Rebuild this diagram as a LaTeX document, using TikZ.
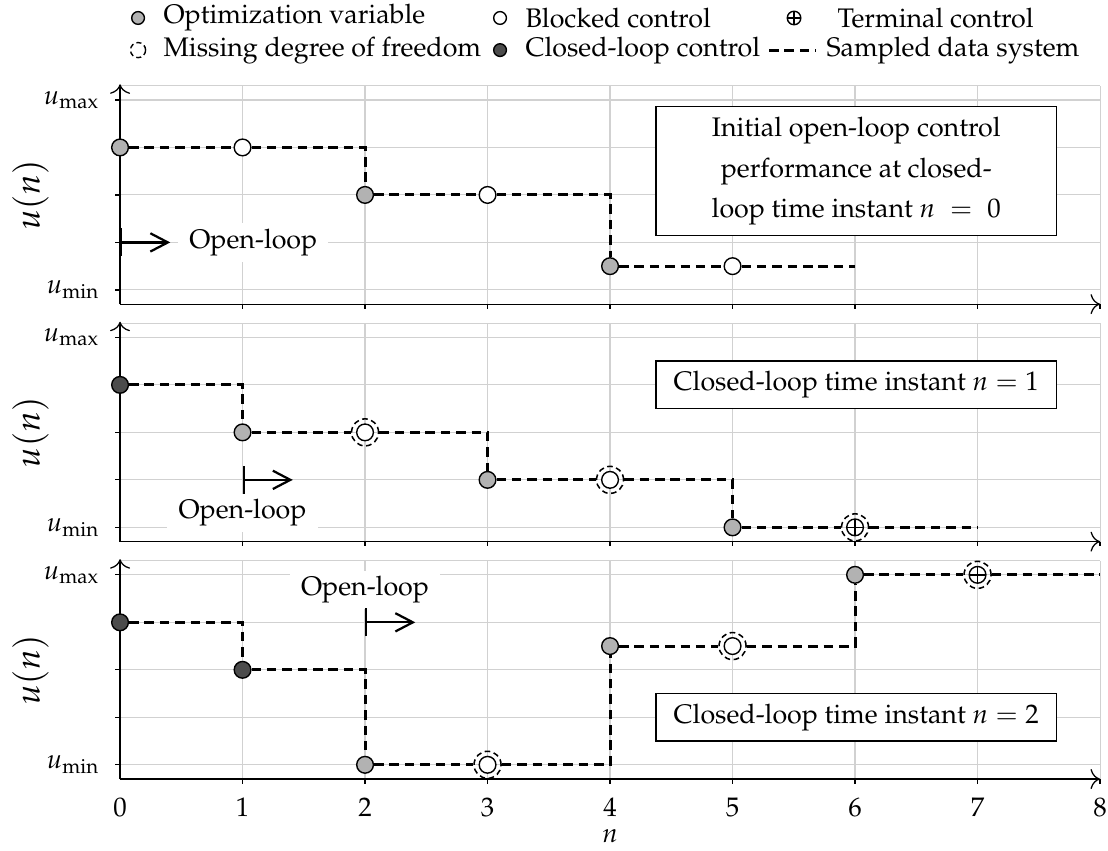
\documentclass[tikz,border=0pt]{standalone}
\usepackage{amsmath}
\usepackage[T1]{fontenc}
\usepackage{mathpazo}
\usetikzlibrary{arrows.meta}

% grid, axes and tick labels of one panel
\newcommand{\ocpframe}[1]{%
  \foreach \i in {0,...,8}{\draw[gridline] (\i,-0.3) -- (\i,4.3);}
  \foreach \j in {0,...,4}{\draw[gridline] (0,\j) -- (8,\j);}
  \draw[gridline] (0,4.3) -- (8,4.3);
  \foreach \i in {1,...,8}{\draw[axisline] (\i,-0.3) -- ++(0,-0.1);}
  \foreach \j in {0,...,4}{\draw[axisline] (0,\j) -- ++(-0.04,0);}
  \draw[axisline,-{To[length=1.2mm]}] (0,-0.3) -- (8,-0.3);
  \draw[axisline,-{To[length=1.2mm]}] (0,-0.3) -- (0,4.33);
  \node[anchor=east,inner sep=0pt] (umax#1) at (-0.163,4) {$u_{\max}$};
  \node[anchor=east,inner sep=0pt] (umin#1) at (-0.163,0) {$u_{\min}$};
  \node[rotate=90,font=\fontsize{12.5}{14}\selectfont] (ylab#1) at (-0.73,2) {$u(n)$};
}

\begin{document}
\begin{tikzpicture}[x=1.54cm,y=0.597cm,font=\fontsize{9.6}{11.5}\selectfont,
  gridline/.style={black!18,line width=0.4pt},
  axisline/.style={black,line width=0.45pt},
  mk/.style={circle,draw,line width=0.5pt,inner sep=0pt,minimum size=0.21cm},
  optvar/.style={mk,fill=black!30},
  clctrl/.style={mk,fill=black!70},
  blocked/.style={mk,fill=white},
  missing/.style={circle,draw,line width=0.55pt,dash pattern=on 2pt off 1.3pt,
    inner sep=0pt,minimum size=0.34cm,
    path picture={\draw[solid,line width=0.5pt,fill=white]
      (path picture bounding box.center) circle[radius=0.105cm];}},
  terminal/.style={missing,
    path picture={\draw[solid,line width=0.5pt,fill=white]
      (path picture bounding box.center) circle[radius=0.105cm];
      \draw[solid,line width=0.5pt]
      ([xshift=-0.105cm]path picture bounding box.center) -- ([xshift=0.105cm]path picture bounding box.center)
      ([yshift=-0.105cm]path picture bounding box.center) -- ([yshift=0.105cm]path picture bounding box.center);}},
  lgmk/.style={minimum size=0.16cm},
  lgring/.style={circle,draw,line width=0.5pt,dash pattern=on 1.8pt off 1.2pt,inner sep=0pt,minimum size=0.19cm},
  lgplus/.style={circle,draw,line width=0.5pt,inner sep=0pt,minimum size=0.17cm,
    path picture={\draw[line width=0.5pt] (path picture bounding box.north) -- (path picture bounding box.south)
      (path picture bounding box.west) -- (path picture bounding box.east);}},
  lgtext/.style={anchor=west,inner sep=0pt},
  sampled/.style={line width=1.1pt,dash pattern=on 3.4pt off 2.1pt},
  olarrow/.style={line width=0.8pt,{Bar[width=3.5mm]}-{Straight Barb[length=2.2mm,width=2.3mm]}},
  olabel/.style={fill=white,inner xsep=4pt,inner ysep=2pt},
  infobox/.style={draw,line width=0.5pt,fill=white,minimum width=5.04cm,align=center}]
\useasboundingbox (-0.98,-1.81) rectangle (8.065,16.105);

% ---- legend ----
\node[optvar,lgmk] (lg1) at (0.147,15.726) {};
\node[lgtext] (lt1) at (0.351,15.726) {Optimization variable};
\node[blocked,lgmk] (lg2) at (3.102,15.726) {};
\node[lgtext] (lt2) at (3.306,15.726) {Blocked control};
\node[lgplus] (lg3) at (5.502,15.726) {};
\node[lgtext] (lt3) at (5.853,15.726) {Terminal control};
\node[lgring] (lg4) at (0.147,15.05) {};
\node[lgtext] (lt4) at (0.351,15.05) {Missing degree of freedom};
\node[clctrl,lgmk] (lg5) at (3.102,15.05) {};
\node[lgtext] (lt5) at (3.306,15.05) {Closed-loop control};
\coordinate (ld1) at (5.298,15.05);
\coordinate (ld2) at (5.682,15.05);
\draw[sampled] (ld1) -- (ld2);
\node[lgtext] (lt6) at (5.763,15.05) {Sampled data system};

% ---- panel 1: initial open-loop solution ----
\begin{scope}[shift={(0,10)}]
\ocpframe{1}
\node[olabel] (ol1) at (1.088,1) {Open-loop};
\coordinate (os1) at (0,1);
\coordinate (oe1) at (0.41,1);
\draw[olarrow] (os1) -- (oe1);
\node[infobox,font=\fontsize{9.6}{14.5}\selectfont,minimum height=1.62cm] (box1) at (6.01,2.5)
  {Initial open-loop control\\performance at closed-\\loop time instant $n\;=\;0$};
\node[optvar]  (a0) at (0,3) {};
\node[blocked] (a1) at (1,3) {};
\node[optvar]  (a2) at (2,2) {};
\node[blocked] (a3) at (3,2) {};
\node[optvar]  (a4) at (4,0.5) {};
\node[blocked] (a5) at (5,0.5) {};
\coordinate (a6) at (6,0.5);
\draw[sampled] (a0) -- (a1) -| (a2) -- (a3) -| (a4) -- (a5) -- (a6);
\end{scope}

% ---- panel 2: n = 1 ----
\begin{scope}[shift={(0,5)}]
\ocpframe{2}
\node[olabel] (ol2) at (1,0.31) {Open-loop};
\coordinate (os2) at (1,1);
\coordinate (oe2) at (1.41,1);
\draw[olarrow] (os2) -- (oe2);
\node[infobox,minimum height=0.6cm] (box2) at (6.01,3) {Closed-loop time instant $n=1$};
\node[clctrl]   (b0) at (0,3) {};
\node[optvar]   (b1) at (1,2) {};
\node[missing]  (b2) at (2,2) {};
\node[optvar]   (b3) at (3,1) {};
\node[missing]  (b4) at (4,1) {};
\node[optvar]   (b5) at (5,0) {};
\node[terminal] (b6) at (6,0) {};
\coordinate (b7) at (7,0);
\draw[sampled] (b0) -| (b1) -- (b2) -| (b3) -- (b4) -| (b5) -- (b6) -- (b7);
\end{scope}

% ---- panel 3: n = 2 ----
\begin{scope}
\ocpframe{3}
\foreach \i in {0,...,8}{\node (xt\i) at (\i,-0.9) {$\i$};}
\node (xlab) at (4,-1.5) {$n$};
\node[olabel] (ol3) at (2,3.68) {Open-loop};
\coordinate (os3) at (2,3);
\coordinate (oe3) at (2.41,3);
\draw[olarrow] (os3) -- (oe3);
\node[infobox,minimum height=0.6cm] (box3) at (6.01,1) {Closed-loop time instant $n=2$};
\node[clctrl]   (c0) at (0,3) {};
\node[clctrl]   (c1) at (1,2) {};
\node[optvar]   (c2) at (2,0) {};
\node[missing]  (c3) at (3,0) {};
\node[optvar]   (c4) at (4,2.5) {};
\node[missing]  (c5) at (5,2.5) {};
\node[optvar]   (c6) at (6,4) {};
\node[terminal] (c7) at (7,4) {};
\coordinate (c8) at (8,4);
\draw[sampled] (c0) -| (c1) -| (c2) -- (c3) -| (c4) -- (c5) -| (c6) -- (c7) -- (c8);
\end{scope}
\end{tikzpicture}
\end{document}
